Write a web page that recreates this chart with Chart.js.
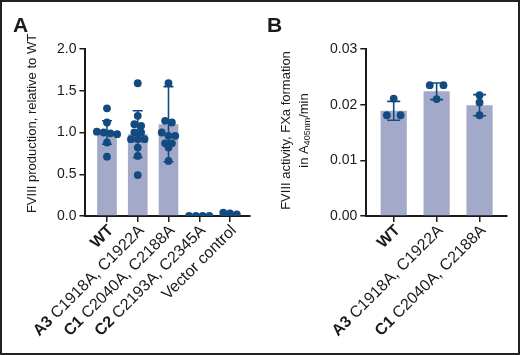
<!DOCTYPE html>
<html>
<head>
<meta charset="utf-8">
<script src="https://cdn.jsdelivr.net/npm/chart.js@4.4.1/dist/chart.umd.min.js"></script>
<style>
  html, body { margin: 0; padding: 0; background: #fff; }
  canvas { position: absolute; top: 0; }
  #chartA { left: 0; }
  #chartB { left: 260px; }
  #frame { position: absolute; left: 0; top: 0; width: 520px; height: 355px; box-sizing: border-box; border: 2px solid #222; pointer-events: none; }
</style>
</head>
<body>
<canvas id="chartA" width="260" height="355"></canvas>
<canvas id="chartB" width="260" height="355"></canvas>
<div id="frame"></div>
<script>
// panel A - FVIII production relative to WT
var boldA = ['WT', 'A3', 'C1', 'C2', ''];
var restA = ['', 'C1918A, C1922A', 'C2040A, C2188A', 'C2193A, C2345A', 'Vector control'];
var meanA = [1.0, 0.98, 1.10, 0.0, 0.03];
var sdA = [0.14, 0.28, 0.45, 0, 0];
var pointsA = [
    [1.29, 1.12, 1.01, 1.0, 0.99, 0.98, 0.88, 0.71],
    [1.59, 1.20, 1.10, 1.08, 1.0, 1.0, 0.92, 0.92, 0.92, 0.82, 0.72, 0.49],
    [1.59, 1.14, 1.12, 1.0, 0.96, 0.96, 0.87, 0.87, 0.82, 0.66],
    [0, 0, 0, 0],
    [0.03, 0.04, 0.02]
];
var ticksA = [0, 0.5, 1.0, 1.5, 2.0];

// panel B - FVIII activity
var boldB = ['WT', 'A3', 'C1'];
var restB = ['', 'C1918A, C1922A', 'C2040A, C2188A'];
var meanB = [0.0189, 0.0224, 0.0199];
var sdB = [0.0017, 0.0015, 0.0019];
var pointsB = [
    [0.0211, 0.0181, 0.0181],
    [0.0235, 0.0235, 0.0210],
    [0.0217, 0.0204, 0.0181]
];
var ticksB = [0, 0.01, 0.02, 0.03];

const barColor = '#a3a9c9';
const dotColor = '#134b80';
const inkColor = '#1a1a1a';
const FONT = '"Liberation Sans", Arial, sans-serif';

// spread points with (nearly) equal values side by side, like a column scatter
function swarm(groups, tol, step) {
    const out = [];
    groups.forEach((vals, i) => {
        const sorted = vals.slice().sort((a, b) => b - a);
        let row = [];
        const flush = () => {
            row.forEach((v, j) => out.push({ x: i + (j - (row.length - 1) / 2) * step, y: v }));
            row = [];
        };
        sorted.forEach(v => {
            if (row.length && row[0] - v > tol) flush();
            row.push(v);
        });
        flush();
    });
    return out;
}

function errorBarPlugin(mean, sd, cap) {
    return {
        id: 'errorBars',
        afterDatasetDraw(chart, args) {
            if (args.index !== 0) return;
            const ctx = chart.ctx, x = chart.scales.x, y = chart.scales.y;
            ctx.save();
            ctx.strokeStyle = dotColor;
            ctx.lineWidth = 1.6;
            mean.forEach((m, i) => {
                if (!sd[i]) return;
                const px = x.getPixelForValue(i);
                const top = y.getPixelForValue(m + sd[i]);
                const bot = y.getPixelForValue(m - sd[i]);
                ctx.beginPath();
                ctx.moveTo(px, top); ctx.lineTo(px, bot);
                ctx.moveTo(px - cap, top); ctx.lineTo(px + cap, top);
                ctx.moveTo(px - cap, bot); ctx.lineTo(px + cap, bot);
                ctx.stroke();
            });
            ctx.restore();
        }
    };
}

function textPlugin(cfg) {
    return {
        id: 'texts',
        afterDraw(chart) {
            const ctx = chart.ctx, x = chart.scales.x, area = chart.chartArea;
            ctx.save();
            ctx.fillStyle = inkColor;

            // panel letter
            ctx.font = 'bold 21px ' + FONT;
            ctx.textAlign = 'left';
            ctx.textBaseline = 'alphabetic';
            ctx.fillText(cfg.letter, cfg.letterX, 32);

            // rotated category labels, bold prefix
            cfg.bold.forEach((b, i) => {
                const px = x.getPixelForValue(i);
                ctx.save();
                ctx.translate(px + 4, area.bottom + 12);
                ctx.rotate(-Math.PI / 4);
                ctx.textAlign = 'right';
                ctx.textBaseline = 'middle';
                ctx.font = '16px ' + FONT;
                const rest = cfg.rest[i];
                const w = rest ? ctx.measureText(rest).width : 0;
                if (rest) ctx.fillText(rest, 0, 0);
                ctx.font = 'bold 16px ' + FONT;
                if (b) ctx.fillText(b + (rest ? ' ' : ''), -w, 0);
                ctx.restore();
            });

            // y axis title
            const cy = (area.top + area.bottom) / 2 + cfg.titleShift;
            cfg.title.forEach((line, k) => {
                ctx.save();
                ctx.translate(cfg.titleX[k], cy);
                ctx.rotate(-Math.PI / 2);
                ctx.textBaseline = 'middle';
                ctx.textAlign = 'left';
                // line is a list of [text, isSub]
                const widths = line.map(p => {
                    ctx.font = p[1] ? cfg.subFont : cfg.titleFont;
                    return ctx.measureText(p[0]).width;
                });
                let pos = -widths.reduce((a, b) => a + b, 0) / 2;
                line.forEach((p, j) => {
                    ctx.font = p[1] ? cfg.subFont : cfg.titleFont;
                    ctx.fillText(p[0], pos, p[1] ? 4 : 0);
                    pos += widths[j];
                });
                ctx.restore();
            });
            ctx.restore();
        }
    };
}

function createChart(id, c) {
    return new Chart(document.getElementById(id), {
        data: {
            datasets: [{
                type: 'bar',
                data: c.mean.map((v, i) => ({ x: i, y: v })),
                backgroundColor: barColor,
                barPercentage: c.barPct,
                categoryPercentage: 1,
                order: 2
            }, {
                type: 'scatter',
                data: swarm(c.points, c.tol, c.step),
                backgroundColor: dotColor,
                borderWidth: 0,
                pointRadius: 3.9,
                order: 1
            }]
        },
        options: {
            responsive: false,
            animation: false,
            events: [],
            layout: { padding: c.padding },
            plugins: { legend: { display: false }, tooltip: { enabled: false } },
            scales: {
                x: {
                    type: 'linear',
                    offset: false,
                    min: c.xMin,
                    max: c.xMax,
                    afterBuildTicks: s => { s.ticks = c.mean.map((_, i) => ({ value: i })); },
                    afterFit: s => { s.height = 12; },
                    ticks: { display: false },
                    grid: { offset: false, drawOnChartArea: false, drawTicks: true, tickLength: 6, color: inkColor, lineWidth: 1.5 },
                    border: { color: inkColor, width: 2 }
                },
                y: {
                    min: 0,
                    max: c.ticks[c.ticks.length - 1],
                    afterBuildTicks: s => { s.ticks = c.ticks.map(v => ({ value: v })); },
                    ticks: {
                        callback: v => v.toFixed(c.dec),
                        font: { family: FONT, size: 14 },
                        color: inkColor,
                        padding: 3
                    },
                    grid: { drawOnChartArea: false, drawTicks: true, tickLength: 6, color: inkColor, lineWidth: 1.5 },
                    border: { color: inkColor, width: 2 }
                }
            }
        },
        plugins: [errorBarPlugin(c.mean, c.sd, c.cap), textPlugin(c.text)]
    });
}

createChart('chartA', {
    mean: meanA, sd: sdA, points: pointsA, ticks: ticksA, dec: 1,
    tol: 0.045, step: 0.22, barPct: 0.64, cap: 5,
    xMin: -0.7, xMax: 4.65,
    padding: { left: 54, right: 10, top: 49, bottom: 127 },
    text: {
        letter: 'A', letterX: 13, bold: boldA, rest: restA,
        title: [[['FVIII production, relative to WT', false]]],
        titleX: [32], titleShift: -9,
        titleFont: '13px ' + FONT, subFont: '9px ' + FONT
    }
});

createChart('chartB', {
    mean: meanB, sd: sdB, points: pointsB, ticks: ticksB, dec: 2,
    tol: 0.001, step: 0.32, barPct: 0.61, cap: 6.5,
    xMin: -0.64, xMax: 2.64,
    padding: { left: 67, right: 13, top: 49, bottom: 127 },
    text: {
        letter: 'B', letterX: 7, bold: boldB, rest: restB,
        title: [
            [['FVIII activity, FXa formation', false]],
            [['in A', false], ['405nm', true], ['/min', false]]
        ],
        titleX: [26, 44], titleShift: -2,
        titleFont: '13px ' + FONT, subFont: '9px ' + FONT
    }
});
</script>
</body>
</html>
